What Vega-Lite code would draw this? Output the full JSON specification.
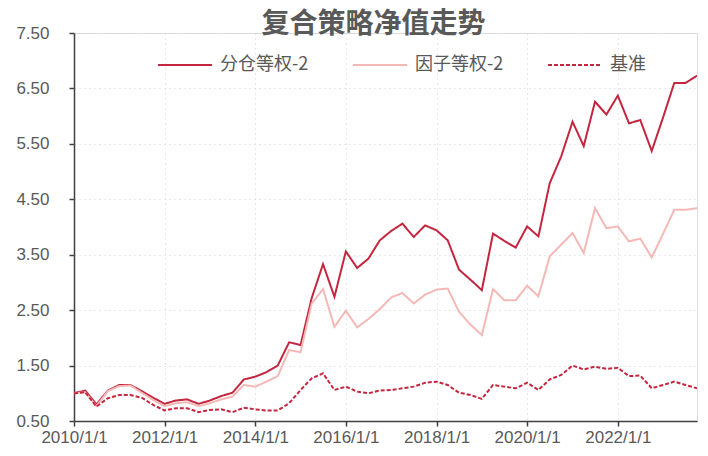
{
  "$schema": "https://vega.github.io/schema/vega-lite/v6.json",
  "width": 623,
  "height": 388,
  "autosize": {"type": "none"},
  "padding": {"left": 74, "top": 33, "right": 11, "bottom": 35},
  "background": "white",
  "title": {
    "text": "复合策略净值走势",
    "font": "Noto Sans CJK SC",
    "fontSize": 28,
    "fontWeight": "bold",
    "color": "#595959",
    "anchor": "middle",
    "frame": "group",
    "baseline": "bottom",
    "offset": 0,
    "dy": 43,
    "dx": -12
  },
  "data": {
    "values": [
      {"date": "2010/1/1", "分仓等权-2": 1.00, "因子等权-2": 1.00, "基准": 1.00},
      {"date": "2010/4/1", "分仓等权-2": 1.05, "因子等权-2": 1.02, "基准": 1.02},
      {"date": "2010/7/1", "分仓等权-2": 0.80, "因子等权-2": 0.77, "基准": 0.76},
      {"date": "2010/10/1", "分仓等权-2": 1.05, "因子等权-2": 1.04, "基准": 0.91},
      {"date": "2011/1/1", "分仓等权-2": 1.15, "因子等权-2": 1.13, "基准": 0.97},
      {"date": "2011/4/1", "分仓等权-2": 1.15, "因子等权-2": 1.14, "基准": 0.97},
      {"date": "2011/7/1", "分仓等权-2": 1.04, "因子等权-2": 1.01, "基准": 0.92},
      {"date": "2011/10/1", "分仓等权-2": 0.92, "因子等权-2": 0.88, "基准": 0.79},
      {"date": "2012/1/1", "分仓等权-2": 0.81, "因子等权-2": 0.77, "基准": 0.69},
      {"date": "2012/4/1", "分仓等权-2": 0.87, "因子等权-2": 0.82, "基准": 0.73},
      {"date": "2012/7/1", "分仓等权-2": 0.89, "因子等权-2": 0.84, "基准": 0.73},
      {"date": "2012/10/1", "分仓等权-2": 0.81, "因子等权-2": 0.77, "基准": 0.66},
      {"date": "2013/1/1", "分仓等权-2": 0.87, "因子等权-2": 0.82, "基准": 0.70},
      {"date": "2013/4/1", "分仓等权-2": 0.95, "因子等权-2": 0.89, "基准": 0.71},
      {"date": "2013/7/1", "分仓等权-2": 1.01, "因子等权-2": 0.94, "基准": 0.66},
      {"date": "2013/10/1", "分仓等权-2": 1.25, "因子等权-2": 1.15, "基准": 0.74},
      {"date": "2014/1/1", "分仓等权-2": 1.30, "因子等权-2": 1.12, "基准": 0.71},
      {"date": "2014/4/1", "分仓等权-2": 1.38, "因子等权-2": 1.21, "基准": 0.69},
      {"date": "2014/7/1", "分仓等权-2": 1.50, "因子等权-2": 1.31, "基准": 0.69},
      {"date": "2014/10/1", "分仓等权-2": 1.92, "因子等权-2": 1.78, "基准": 0.82},
      {"date": "2015/1/1", "分仓等权-2": 1.87, "因子等权-2": 1.74, "基准": 1.06},
      {"date": "2015/4/1", "分仓等权-2": 2.72, "因子等权-2": 2.62, "基准": 1.27},
      {"date": "2015/7/1", "分仓等权-2": 3.33, "因子等权-2": 2.88, "基准": 1.36},
      {"date": "2015/10/1", "分仓等权-2": 2.74, "因子等权-2": 2.20, "基准": 1.06},
      {"date": "2016/1/1", "分仓等权-2": 3.56, "因子等权-2": 2.49, "基准": 1.12},
      {"date": "2016/4/1", "分仓等权-2": 3.26, "因子等权-2": 2.19, "基准": 1.03},
      {"date": "2016/7/1", "分仓等权-2": 3.43, "因子等权-2": 2.34, "基准": 1.00},
      {"date": "2016/10/1", "分仓等权-2": 3.76, "因子等权-2": 2.52, "基准": 1.05},
      {"date": "2017/1/1", "分仓等权-2": 3.93, "因子等权-2": 2.73, "基准": 1.06},
      {"date": "2017/4/1", "分仓等权-2": 4.06, "因子等权-2": 2.81, "基准": 1.09},
      {"date": "2017/7/1", "分仓等权-2": 3.82, "因子等权-2": 2.62, "基准": 1.12},
      {"date": "2017/10/1", "分仓等权-2": 4.03, "因子等权-2": 2.78, "基准": 1.19},
      {"date": "2018/1/1", "分仓等权-2": 3.94, "因子等权-2": 2.87, "基准": 1.21},
      {"date": "2018/4/1", "分仓等权-2": 3.76, "因子等权-2": 2.89, "基准": 1.15},
      {"date": "2018/7/1", "分仓等权-2": 3.23, "因子等权-2": 2.47, "基准": 1.01},
      {"date": "2018/10/1", "分仓等权-2": 3.05, "因子等权-2": 2.24, "基准": 0.97},
      {"date": "2019/1/1", "分仓等权-2": 2.86, "因子等权-2": 2.05, "基准": 0.90},
      {"date": "2019/4/1", "分仓等权-2": 3.88, "因子等权-2": 2.88, "基准": 1.15},
      {"date": "2019/7/1", "分仓等权-2": 3.75, "因子等权-2": 2.68, "基准": 1.12},
      {"date": "2019/10/1", "分仓等权-2": 3.63, "因子等权-2": 2.68, "基准": 1.09},
      {"date": "2020/1/1", "分仓等权-2": 4.01, "因子等权-2": 2.94, "基准": 1.19},
      {"date": "2020/4/1", "分仓等权-2": 3.83, "因子等权-2": 2.75, "基准": 1.06},
      {"date": "2020/7/1", "分仓等权-2": 4.79, "因子等权-2": 3.47, "基准": 1.25},
      {"date": "2020/10/1", "分仓等权-2": 5.27, "因子等权-2": 3.68, "基准": 1.33},
      {"date": "2021/1/1", "分仓等权-2": 5.90, "因子等权-2": 3.89, "基准": 1.50},
      {"date": "2021/4/1", "分仓等权-2": 5.46, "因子等权-2": 3.53, "基准": 1.43},
      {"date": "2021/7/1", "分仓等权-2": 6.26, "因子等权-2": 4.34, "基准": 1.48},
      {"date": "2021/10/1", "分仓等权-2": 6.03, "因子等权-2": 3.98, "基准": 1.44},
      {"date": "2022/1/1", "分仓等权-2": 6.37, "因子等权-2": 4.01, "基准": 1.46},
      {"date": "2022/4/1", "分仓等权-2": 5.87, "因子等权-2": 3.74, "基准": 1.31},
      {"date": "2022/7/1", "分仓等权-2": 5.93, "因子等权-2": 3.79, "基准": 1.32},
      {"date": "2022/10/1", "分仓等权-2": 5.37, "因子等权-2": 3.45, "基准": 1.09},
      {"date": "2023/1/1", "分仓等权-2": 5.98, "因子等权-2": 3.88, "基准": 1.15},
      {"date": "2023/4/1", "分仓等权-2": 6.60, "因子等权-2": 4.31, "基准": 1.21},
      {"date": "2023/7/1", "分仓等权-2": 6.60, "因子等权-2": 4.31, "基准": 1.15},
      {"date": "2023/10/1", "分仓等权-2": 6.73, "因子等权-2": 4.34, "基准": 1.09}
    ]
  },
  "transform": [
    {"fold": ["分仓等权-2", "因子等权-2", "基准"], "as": ["series", "value"]}
  ],
  "mark": {"type": "line", "strokeWidth": 2, "clip": true},
  "encoding": {
    "x": {
      "field": "date",
      "type": "temporal",
      "scale": {"domain": [{"year": 2010, "month": 1, "date": 1}, {"year": 2023, "month": 10, "date": 1}], "nice": false},
      "axis": {
        "title": null,
        "values": [
          {"year": 2010, "month": 1, "date": 1},
          {"year": 2012, "month": 1, "date": 1},
          {"year": 2014, "month": 1, "date": 1},
          {"year": 2016, "month": 1, "date": 1},
          {"year": 2018, "month": 1, "date": 1},
          {"year": 2020, "month": 1, "date": 1},
          {"year": 2022, "month": 1, "date": 1}
        ],
        "format": "%Y/%-m/%-d",
        "labelFont": "Liberation Sans",
        "labelFontSize": 17,
        "labelColor": "#595959",
        "labelPadding": 3,
        "domainColor": "#404040",
        "domainWidth": 1.5,
        "tickColor": "#404040",
        "tickWidth": 1.5,
        "tickSize": 5,
        "grid": true,
        "gridColor": "#d0d0d0",
        "gridDash": [1, 4],
        "gridWidth": 1,
        "labelFlush": false,
        "labelOverlap": false
      }
    },
    "y": {
      "field": "value",
      "type": "quantitative",
      "scale": {"domain": [0.5, 7.5], "nice": false, "zero": false},
      "axis": {
        "title": null,
        "values": [0.5, 1.5, 2.5, 3.5, 4.5, 5.5, 6.5, 7.5],
        "format": ".2f",
        "labelFont": "Liberation Sans",
        "labelFontSize": 17,
        "labelColor": "#595959",
        "labelPadding": 20,
        "domainColor": "#404040",
        "domainWidth": 1.5,
        "tickColor": "#404040",
        "tickWidth": 1.5,
        "tickSize": 5,
        "grid": true,
        "gridColor": "#d0d0d0",
        "gridDash": [1, 4],
        "gridWidth": 1
      }
    },
    "color": {
      "field": "series",
      "type": "nominal",
      "sort": ["分仓等权-2", "因子等权-2", "基准"],
      "scale": {"domain": ["分仓等权-2", "因子等权-2", "基准"], "range": ["#C4263F", "#F4B9B6", "#C4263F"]},
      "legend": {
        "title": null,
        "orient": "none",
        "legendX": 83,
        "legendY": 4,
        "direction": "horizontal",
        "symbolType": "stroke",
        "symbolSize": 2916,
        "symbolStrokeWidth": 2,
        "labelFont": "Noto Sans CJK SC",
        "labelFontSize": 18,
        "labelColor": "#595959",
        "labelOffset": 7,
        "columnPadding": 40
      }
    },
    "strokeDash": {
      "field": "series",
      "type": "nominal",
      "sort": ["分仓等权-2", "因子等权-2", "基准"],
      "scale": {"domain": ["分仓等权-2", "因子等权-2", "基准"], "range": [[1, 0], [1, 0], [4, 2]]},
      "legend": null
    },
    "order": {"field": "series", "sort": "descending"}
  }
}
